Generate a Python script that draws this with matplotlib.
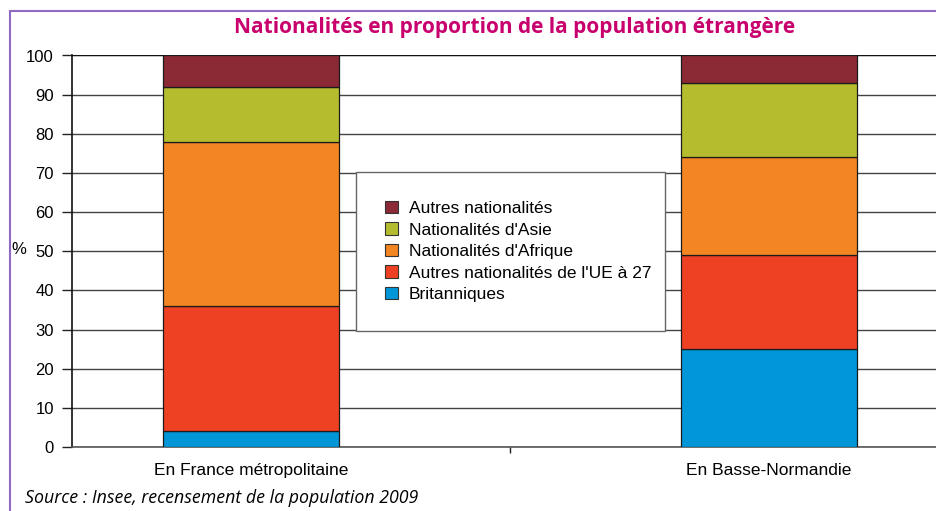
import matplotlib
matplotlib.use("Agg")
import matplotlib.pyplot as plt
from matplotlib.patches import Rectangle, Patch
import numpy as np

categories = ["En France métropolitaine", "En Basse-Normandie"]
series_names = ["Britanniques", "Autres nationalités de l'UE à 27",
                "Nationalités d'Afrique", "Nationalités d'Asie", "Autres nationalités"]
britanniques = [4, 25]
autres_ue = [32, 24]
afrique = [42, 25]
asie = [14, 19]
autres = [8, 7]
colors = ["#0096D8", "#EE4124", "#F38523", "#B5BD2F", "#8B2935"]
yticks = [0, 10, 20, 30, 40, 50, 60, 70, 80, 90, 100]

narrow = ["Liberation Sans", "DejaVu Sans"]

fig = plt.figure(figsize=(9.37, 5.11), dpi=100)
W, H = 937, 511
ax = fig.add_axes([72 / W, (H - 447) / H, (948 - 72) / W, (447 - 55.5) / H])

x = np.arange(len(categories))
series = [britanniques, autres_ue, afrique, asie, autres]
bottom = np.zeros(len(categories))
for vals, col in zip(series, colors):
    ax.bar(x, vals, bottom=bottom, width=0.34, color=col, edgecolor="#1a1a1a",
           linewidth=0.9, zorder=3)
    bottom += np.array(vals)

ax.set_xlim(-0.3456, 1.3456)
ax.set_ylim(0, 100)
ax.set_yticks(yticks)
ax.set_yticklabels([str(t) for t in yticks], family=narrow, fontsize=12)
ax.yaxis.grid(True, color="#444444", linewidth=1.0, zorder=0)
ax.set_axisbelow(True)
ax.set_xticks([0.5])
ax.set_xticklabels([""])
ax.tick_params(axis="x", length=4, width=1, color="#222222")
ax.tick_params(axis="y", length=7, width=1, color="#222222", pad=6)
for s in ["top", "right"]:
    ax.spines[s].set_visible(False)
ax.spines["left"].set_color("#111111")
ax.spines["left"].set_linewidth(1.2)
ax.spines["bottom"].set_color("#555555")
ax.spines["bottom"].set_linewidth(1.2)
ax.axhline(100, color="#111111", linewidth=1.6, zorder=2)

for xi, lab in zip(x, categories):
    ax.text(xi, -4.1, lab, ha="center", va="top", family=narrow, fontsize=12.5,
            transform=ax.transData, clip_on=False)

handles = [Patch(facecolor=c, edgecolor="#333333", linewidth=0.8) for c in colors]
aw, ah = (948 - 72), (447 - 55.5)
leg = ax.legend(handles[::-1], series_names[::-1], loc="upper left",
                bbox_to_anchor=((356 - 72) / aw, (447 - 329) / ah, 309 / aw, 157 / ah),
                mode="expand",
                prop={"family": narrow, "size": 12.5}, frameon=True, fancybox=False,
                borderpad=1.65, labelspacing=0.35, handlelength=0.75, handleheight=0.75,
                handletextpad=0.65, borderaxespad=0, edgecolor="#666666", framealpha=1)
leg.get_frame().set_linewidth(1.0)
leg.set_zorder(5)

fig.text(515 / W, 1 - 27 / H, "Nationalités en proportion de la population étrangère",
         ha="center", va="center", fontsize=15, fontweight="bold", color="#C8006E",
         family=["Open Sans", "DejaVu Sans"])
fig.text(11 / W, 1 - 250 / H, "%", ha="left", va="center", fontsize=12, family=narrow)
fig.text(25 / W, 1 - 498 / H, "Source : Insee, recensement de la population 2009",
         ha="left", va="center", fontsize=12.8, style="italic",
         family=["Open Sans", "DejaVu Sans"])

frame = Rectangle((10 / W, -0.1), 1.2, 1 - 10.5 / H + 0.1, transform=fig.transFigure,
                  fill=False, edgecolor="#8E6BC1", linewidth=1.5)
fig.patches.append(frame)

fig.savefig("out.png", dpi=100)
